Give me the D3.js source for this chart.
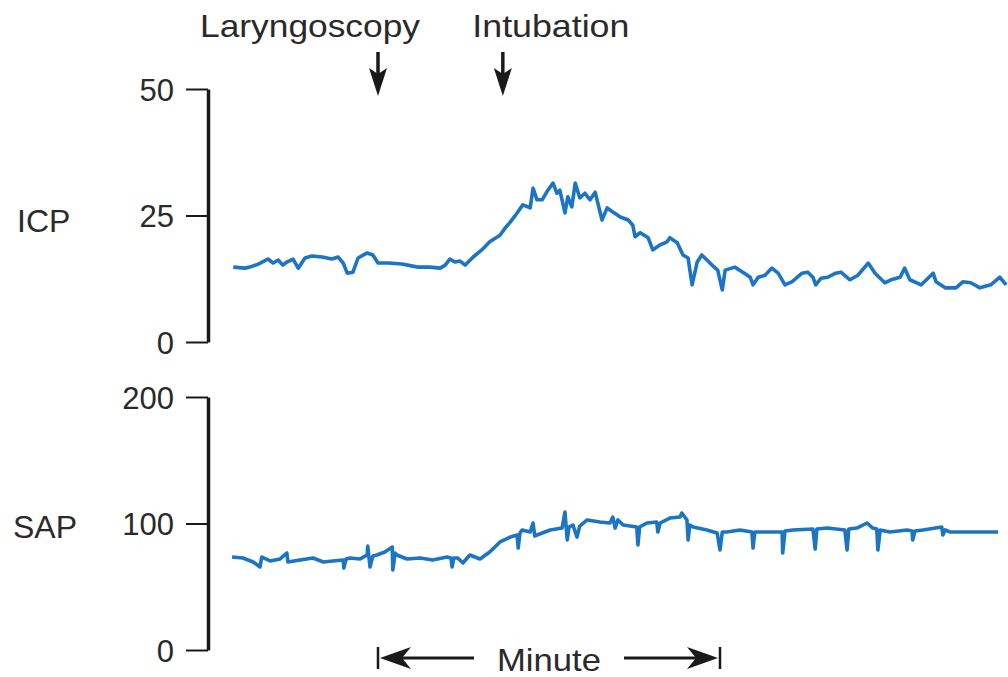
<!DOCTYPE html>
<html>
<head>
<meta charset="utf-8">
<script src="https://cdn.jsdelivr.net/npm/d3@7"></script>
<style>
  body { margin: 0; background: #fff; }
  svg { display: block; font-family: "Liberation Sans", Arial, sans-serif; }
  .trace { fill: none; stroke: #1c74c4; stroke-width: 3.6; stroke-linejoin: round; }
  .axe .domain { stroke: #1a1a1a; stroke-width: 3.5; }
  .axe .tick line { stroke: #1a1a1a; stroke-width: 2; }
  .axe .tick text { font-size: 31px; fill: #2a2a2a; }
  .lbl { font-size: 32px; fill: #2a2a2a; }
</style>
</head>
<body>
<script>
// temps en secondes, 0 = laryngoscopie
const icpTemps = [-25.4,-23.3,-22.5,-21.0,-19.3,-18.4,-17.5,-16.7,-16.0,-14.9,-14.0,-12.8,-11.6,-9.8,-8.1,-7.0,-6.1,-5.4,-4.4,-3.5,-1.9,-0.9,0.0,1.8,4.2,7.0,9.1,10.9,11.8,12.6,13.5,14.4,15.3,16.7,18.2,19.6,21.4,22.3,23.2,24.4,25.4,26.7,27.2,27.9,28.8,29.8,30.7,31.4,31.9,32.8,33.3,34.0,34.6,35.4,36.3,37.2,38.1,39.3,40.2,41.2,42.5,43.9,44.7,45.1,46.0,47.4,48.2,49.5,50.7,51.2,52.5,53.5,54.4,55.1,56.0,56.8,57.7,58.6,59.6,60.4,60.9,62.6,64.0,65.3,65.8,66.7,67.9,69.1,70.2,71.4,72.6,74.4,75.4,76.3,76.8,77.7,78.9,80.3,81.2,82.8,84.2,86.0,87.2,88.9,90.0,91.6,92.4,93.3,95.3,97.4,97.9,99.5,101.4,102.6,104.0,105.6,107.5,109.1,110.2];
const icpValeurs = [14.8,14.6,14.8,15.4,16.4,15.6,16.2,15.2,15.8,16.4,14.6,16.6,17.0,16.8,16.4,16.8,15.6,13.6,13.8,16.6,17.6,17.2,15.6,15.6,15.4,14.8,14.8,14.6,15.2,16.4,15.8,16.0,15.2,16.8,18.2,19.8,21.1,22.5,23.7,25.5,27.1,26.5,30.4,28.1,28.1,30.0,31.4,29.4,30.0,25.5,28.7,26.7,31.4,28.5,29.4,28.1,29.6,24.1,26.5,25.7,24.7,24.1,23.1,20.8,21.6,20.6,18.2,19.2,19.8,20.6,19.6,17.2,16.6,11.3,15.8,17.2,16.2,15.2,14.2,10.3,14.2,14.8,13.8,12.8,11.3,12.8,13.2,14.6,13.6,11.3,11.9,13.6,13.8,12.8,11.3,12.6,12.8,13.6,13.8,12.3,13.2,15.6,13.6,11.7,12.3,12.8,14.6,12.3,11.3,13.6,11.9,10.7,10.7,11.9,11.7,10.7,11.3,12.8,11.3];

const sapTemps = [-25.6,-23.7,-21.9,-20.7,-20.4,-18.9,-17.2,-16.0,-15.8,-13.7,-11.4,-9.6,-7.9,-6.1,-6.0,-5.6,-4.9,-3.2,-1.9,-1.8,-1.4,-0.9,-0.2,1.2,2.5,2.6,3.0,3.3,5.1,7.4,9.6,12.1,12.8,13.0,13.3,14.0,14.9,16.1,17.9,19.6,21.4,23.2,24.4,24.6,24.9,25.3,26.7,27.2,27.5,27.9,30.2,32.3,32.8,33.2,33.5,34.2,34.9,35.4,36.7,38.9,40.7,41.2,41.6,42.1,43.0,45.4,45.6,45.9,47.2,48.9,49.1,49.5,51.2,53.0,53.3,54.2,54.4,54.7,55.3,57.7,59.5,60.0,60.4,61.2,63.5,65.6,65.8,66.1,67.0,68.8,70.9,71.0,71.4,72.8,76.3,76.7,77.0,78.8,81.9,82.3,82.6,84.0,85.8,86.8,87.5,87.7,88.1,89.8,92.8,93.7,93.8,94.2,95.6,98.9,99.1,99.5,100.3,103.8,108.8];
const sapValeurs = [73.5,72.7,69.6,65.6,73.5,70.4,71.9,76.7,69.6,71.1,72.7,69.6,70.4,71.1,64.8,71.9,72.7,71.9,75.1,82.2,65.6,74.3,75.1,77.5,81.4,63.2,76.7,75.1,71.9,72.7,71.1,73.5,72.7,65.6,72.7,72.7,68.8,75.1,71.9,77.5,85.4,89.3,90.9,80.6,92.5,94.9,93.3,100.4,90.1,90.9,94.9,96.4,109.1,87.0,97.2,98.8,89.3,98.0,102.8,101.2,100.4,105.1,96.4,102.8,98.8,97.2,83.0,97.2,100.4,101.2,93.3,100.4,104.3,105.1,108.3,102.8,87.0,98.8,97.2,94.9,92.5,79.1,93.3,93.3,94.9,93.3,80.6,93.3,93.3,93.3,93.3,76.7,94.1,94.9,95.7,79.8,95.7,96.4,94.9,79.1,95.7,96.4,100.4,96.4,95.7,79.1,94.9,93.3,94.9,94.1,87.0,94.1,94.9,97.2,90.9,94.9,93.3,93.3,93.3];

const icpGraduations = [0, 25, 50];
const sapGraduations = [0, 100, 200];
const evenements = ["Laryngoscopy", "Intubation"];
const evenementsTemps = [0, 21.9];
const minuteDebutFin = [0, 60];

// créer le canevas
const canevas = d3.select('body')
  .append('svg')
  .attr('width', 1008)
  .attr('height', 677);

// échelles
const x = d3.scaleLinear().domain([0, 60]).range([378, 720]);
const yIcp = d3.scaleLinear().domain([0, 50]).range([342, 89]);
const ySap = d3.scaleLinear().domain([0, 200]).range([650, 397]);
const axeX = 208;

// axes
function dessinerAxe(echelle, graduations) {
  const g = canevas.append('g')
    .attr('class', 'axe')
    .attr('transform', `translate(${axeX},0)`)
    .call(d3.axisLeft(echelle).tickValues(graduations).tickSize(22).tickSizeOuter(0).tickPadding(12));
  g.selectAll('.tick text').attr('dy', '0.36em');
  return g;
}
dessinerAxe(yIcp, icpGraduations);
dessinerAxe(ySap, sapGraduations);

// noms des courbes
canevas.append('text').attr('class', 'lbl')
  .attr('x', 17).attr('y', yIcp(25) + 16).text('ICP');
canevas.append('text').attr('class', 'lbl')
  .attr('x', 13).attr('y', ySap(100) + 14).text('SAP');

// tracés
const ligneIcp = d3.line().x((d, i) => x(icpTemps[i])).y(d => yIcp(d));
const ligneSap = d3.line().x((d, i) => x(sapTemps[i])).y(d => ySap(d));
canevas.append('path').attr('class', 'trace').attr('d', ligneIcp(icpValeurs));
canevas.append('path').attr('class', 'trace').attr('d', ligneSap(sapValeurs));

// évènements : textes et flèches
const decalages = [-68, 48];
const largeurs = [220, 157];
evenements.forEach((nom, i) => {
  const xe = x(evenementsTemps[i]);
  canevas.append('text').attr('class', 'lbl')
    .attr('x', xe + decalages[i]).attr('y', 37)
    .attr('text-anchor', 'middle')
    .attr('textLength', largeurs[i]).attr('lengthAdjust', 'spacingAndGlyphs')
    .text(nom);
  canevas.append('line')
    .attr('x1', xe).attr('x2', xe).attr('y1', 52).attr('y2', 80)
    .attr('stroke', '#1a1a1a').attr('stroke-width', 3.5);
  canevas.append('path')
    .attr('d', `M${xe - 9},68 L${xe},96 L${xe + 9},68 L${xe},74 Z`)
    .attr('fill', '#1a1a1a');
});

// barre d'une minute
const x0 = x(minuteDebutFin[0]), x1 = x(minuteDebutFin[1]);
const yb = 658;
const barre = canevas.append('g').attr('stroke', '#1a1a1a').attr('fill', '#1a1a1a');
barre.append('line').attr('x1', x0).attr('x2', x0).attr('y1', yb - 11).attr('y2', yb + 11).attr('stroke-width', 2.5);
barre.append('line').attr('x1', x1).attr('x2', x1).attr('y1', yb - 11).attr('y2', yb + 11).attr('stroke-width', 2.5);
barre.append('line').attr('x1', x0 + 10).attr('x2', x0 + 96).attr('y1', yb).attr('y2', yb).attr('stroke-width', 3);
barre.append('line').attr('x1', x1 - 96).attr('x2', x1 - 10).attr('y1', yb).attr('y2', yb).attr('stroke-width', 3);
barre.append('path').attr('stroke', 'none')
  .attr('d', `M${x0 + 2},${yb} L${x0 + 33},${yb - 11} L${x0 + 24},${yb} L${x0 + 33},${yb + 11} Z`);
barre.append('path').attr('stroke', 'none')
  .attr('d', `M${x1 - 2},${yb} L${x1 - 33},${yb - 11} L${x1 - 24},${yb} L${x1 - 33},${yb + 11} Z`);
canevas.append('text').attr('class', 'lbl')
  .attr('x', (x0 + x1) / 2).attr('y', yb + 13)
  .attr('text-anchor', 'middle')
  .attr('textLength', 104).attr('lengthAdjust', 'spacingAndGlyphs')
  .text('Minute');
</script>
</body>
</html>
